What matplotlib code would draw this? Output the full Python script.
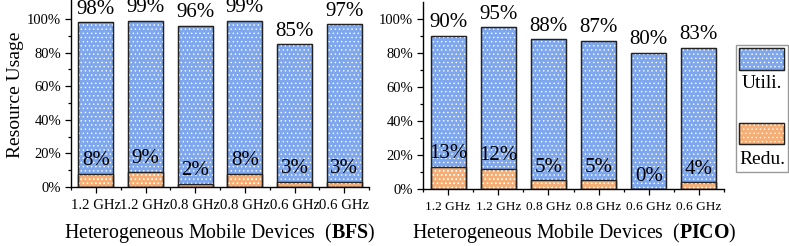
import matplotlib
matplotlib.use("Agg")
import matplotlib.pyplot as plt
from matplotlib.patches import Rectangle
from matplotlib.ticker import FixedLocator, PercentFormatter

plt.rcParams['font.family'] = ['Liberation Serif', 'DejaVu Serif']
plt.rcParams['mathtext.fontset'] = 'custom'
plt.rcParams['mathtext.rm'] = 'Liberation Serif'
plt.rcParams['mathtext.bf'] = 'Liberation Serif:bold'
plt.rcParams['hatch.linewidth'] = 0.5

devices = ["1.2 GHz", "1.2 GHz", "0.8 GHz", "0.8 GHz", "0.6 GHz", "0.6 GHz"]
bfs_util = [98, 99, 96, 99, 85, 97]
bfs_redu = [8, 9, 2, 8, 3, 3]
pico_util = [90, 95, 88, 87, 80, 83]
pico_redu = [13, 12, 5, 5, 0, 4]
yticks = [0, 20, 40, 60, 80, 100]

BLUE = '#7fa7ee'
ORANGE = '#f4ae76'
EDGE = '#222222'
HATCH = '....'

W, H = 789, 246
fig = plt.figure(figsize=(W / 100, H / 100), dpi=100)


def px_axes(x0, x1, ytop, ybot):
    return fig.add_axes([x0 / W, 1 - ybot / H, (x1 - x0) / W, (ybot - ytop) / H])


def draw(ax, util, redu, ylim_top, xt_size):
    x = list(range(len(util)))
    for vals, col in ((util, BLUE), (redu, ORANGE)):
        ax.bar(x, vals, width=0.7, color=col, edgecolor=EDGE, linewidth=0.9, zorder=2)
        ax.bar(x, vals, width=0.7, facecolor='none', edgecolor='white', linewidth=0,
               hatch=HATCH, zorder=3)
        ax.bar(x, vals, width=0.7, facecolor='none', edgecolor=EDGE, linewidth=0.9, zorder=4)
    for xi, u, r in zip(x, util, redu):
        ax.annotate(f"{u}%", (xi, u), xytext=(0, 2.5), textcoords='offset points',
                    ha='center', va='bottom', fontsize=15, zorder=5)
        ax.annotate(f"{r}%", (xi, r), xytext=(0, 2.5), textcoords='offset points',
                    ha='center', va='bottom', fontsize=15, zorder=5)
    ax.set_xlim(-0.5, 5.5)
    ax.set_ylim(0, ylim_top)
    ax.set_xticks(x)
    ax.set_xticklabels(devices, fontsize=xt_size)
    ax.xaxis.set_minor_locator(FixedLocator([i - 0.5 for i in range(7)]))
    ax.set_yticks(yticks)
    ax.yaxis.set_major_formatter(PercentFormatter(decimals=0))
    ax.yaxis.set_minor_locator(FixedLocator([10, 30, 50, 70, 90]))
    for lab in ax.get_yticklabels():
        lab.set_fontsize(10.5)
    ax.tick_params(axis='x', which='major', direction='out', length=4.5, width=0.9, pad=4)
    ax.tick_params(axis='x', which='minor', direction='out', length=2.5, width=0.9)
    ax.tick_params(axis='y', which='major', direction='out', length=4, width=0.9, pad=3)
    ax.tick_params(axis='y', which='minor', direction='out', length=2, width=0.9)
    for s in ('top', 'right'):
        ax.spines[s].set_visible(False)
    for s in ('left', 'bottom'):
        ax.spines[s].set_linewidth(1.0)


ax1 = px_axes(71, 369, 0.5, 187)
draw(ax1, bfs_util, bfs_redu, 111, 10.6)
ax2 = px_axes(423, 724, 1.5, 189)
draw(ax2, pico_util, pico_redu, 110, 9.6)

fig.text(16 / W, 1 - 95 / H, "Resource Usage", rotation=90, ha='center', va='center', fontsize=14)
fig.text(220 / W, 1 - 233 / H, r"Heterogeneous Mobile Devices  ($\mathbf{BFS}$)",
         ha='center', va='center', fontsize=14.3)
fig.text(574 / W, 1 - 233 / H, r"Heterogeneous Mobile Devices  ($\mathbf{PICO}$)",
         ha='center', va='center', fontsize=14.3)

# legend
lax = px_axes(736, 788, 45, 172)
lax.set_xlim(0, 1)
lax.set_ylim(0, 1)
lax.axis('off')
lax.add_patch(Rectangle((0, 0), 1, 1, transform=lax.transAxes, facecolor='white',
                        edgecolor='#999999', linewidth=1.0, clip_on=False))
for (y0, y1, ty, col, name) in ((0.803, 0.976, 0.693, BLUE, "Utili."),
                                (0.220, 0.386, 0.098, ORANGE, "Redu.")):
    lax.add_patch(Rectangle((0.058, y0), 0.865, y1 - y0, facecolor=col, edgecolor=EDGE,
                            linewidth=0.9))
    lax.add_patch(Rectangle((0.058, y0), 0.865, y1 - y0, facecolor='none', edgecolor='white',
                            linewidth=0, hatch=HATCH))
    lax.add_patch(Rectangle((0.058, y0), 0.865, y1 - y0, facecolor='none', edgecolor=EDGE,
                            linewidth=0.9))
    lax.text(0.5, ty, name, ha='center', va='center', fontsize=14)

fig.savefig("out.png", dpi=100)
